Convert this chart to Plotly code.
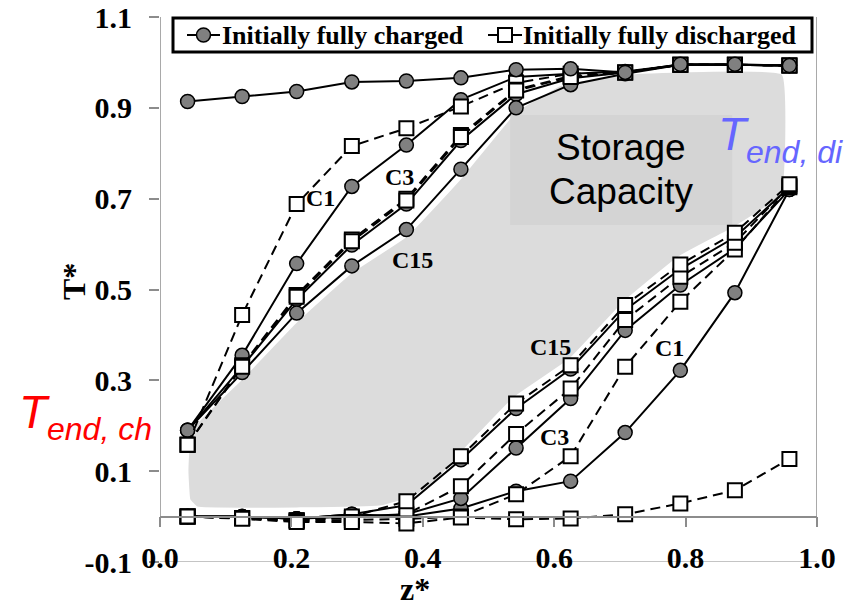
import plotly.graph_objects as go

# ---------------- data ----------------
z = [0.042, 0.125, 0.208, 0.292, 0.375, 0.458, 0.542, 0.625, 0.708, 0.792, 0.875, 0.958]

# Initially fully charged (circle markers, solid lines)
ch_init   = [0.914, 0.925, 0.936, 0.957, 0.959, 0.966, 0.984, 0.986, 0.978, 0.996, 0.996, 0.993]
ch_C1_up  = [0.190, 0.355, 0.557, 0.727, 0.818, 0.918, 0.968, 0.975, 0.980, 0.995, 0.995, 0.993]
ch_C3_up  = [0.190, 0.330, 0.478, 0.598, 0.688, 0.828, 0.930, 0.965, 0.978, 0.995, 0.995, 0.993]
ch_C15_up = [0.190, 0.317, 0.448, 0.552, 0.632, 0.765, 0.900, 0.951, 0.975, 0.995, 0.995, 0.993]
ch_C1_lo  = [0.000, 0.000, -0.005, 0.005, 0.000, 0.018, 0.056, 0.078, 0.185, 0.322, 0.493, 0.720]
ch_C3_lo  = [0.000, 0.000, -0.005, 0.000, 0.005, 0.040, 0.151, 0.260, 0.410, 0.510, 0.590, 0.720]
ch_C15_lo = [0.000, 0.000, -0.005, 0.005, 0.025, 0.125, 0.238, 0.325, 0.455, 0.545, 0.615, 0.725]

# Initially fully discharged (square markers, dashed lines)
dis_init   = [0.000, -0.005, -0.012, -0.012, -0.015, -0.002, -0.006, -0.004, 0.005, 0.029, 0.058, 0.127]
dis_C1_up  = [0.158, 0.444, 0.688, 0.816, 0.855, 0.903, 0.955, 0.975, 0.978, 0.995, 0.995, 0.993]
dis_C3_up  = [0.158, 0.333, 0.488, 0.610, 0.700, 0.840, 0.940, 0.970, 0.978, 0.995, 0.995, 0.993]
dis_C15_up = [0.158, 0.330, 0.484, 0.606, 0.696, 0.836, 0.938, 0.968, 0.978, 0.995, 0.995, 0.993]
dis_C1_lo  = [0.000, -0.003, -0.010, -0.008, -0.005, 0.000, 0.049, 0.133, 0.330, 0.473, 0.588, 0.725]
dis_C3_lo  = [0.000, -0.003, -0.008, -0.003, 0.005, 0.067, 0.182, 0.282, 0.433, 0.528, 0.603, 0.728]
dis_C15_lo = [0.000, -0.003, -0.008, 0.000, 0.034, 0.133, 0.249, 0.333, 0.466, 0.555, 0.625, 0.732]

series_names = ["Initially fully charged", "Initially fully discharged"]

# cycle labels (text, z*, T*)
cycle_labels = [("C1", 0.244, 0.702), ("C3", 0.365, 0.748), ("C15", 0.384, 0.565),
                ("C15", 0.594, 0.374), ("C1", 0.776, 0.372), ("C3", 0.600, 0.176)]

# storage-capacity region outline (z*, T*)
region_x = [0.046, 0.041, 0.044, 0.056, 0.213, 0.335, 0.388, 0.426, 0.457, 0.540, 0.624, 0.708,
            0.790, 0.875, 0.948, 0.948, 0.700, 0.609, 0.540, 0.457, 0.374, 0.291, 0.209, 0.125, 0.046]
region_y = [0.191, 0.103, 0.037, 0.019, 0.017, 0.021, 0.043, 0.085, 0.136, 0.261, 0.345, 0.473,
            0.570, 0.636, 0.709, 0.975, 0.975, 0.951, 0.891, 0.746, 0.618, 0.539, 0.433, 0.306, 0.191]
box_x = [0.533, 0.871, 0.871, 0.533, 0.533]
box_y = [0.642, 0.642, 0.884, 0.884, 0.642]

x_ticks = [0.0, 0.2, 0.4, 0.6, 0.8, 1.0]
y_ticks = [-0.1, 0.1, 0.3, 0.5, 0.7, 0.9, 1.1]

# ---------------- figure ----------------
W, H = 846, 607
ML, MR, MT, MB = 160, 29, 17, 45
PW, PH = W - ML - MR, H - MT - MB

def px_x(px):
    return (px - ML) / PW

def px_y(py):
    return (H - MB - py) / PH

fig = go.Figure()

fig.add_trace(go.Scatter(x=region_x, y=region_y, fill="toself", mode="lines",
                         line=dict(color="white", width=3, shape="spline", smoothing=0.3),
                         fillcolor="#dcdcdc", showlegend=False, hoverinfo="skip"))
fig.add_trace(go.Scatter(x=box_x, y=box_y, fill="toself", mode="lines",
                         line=dict(color="#d4d4d4", width=0),
                         fillcolor="#d4d4d4", showlegend=False, hoverinfo="skip"))

circ = dict(symbol="circle", size=14, color="#808080", line=dict(color="black", width=1.5))
sq = dict(symbol="square", size=14, color="white", line=dict(color="black", width=2))
solid = dict(color="black", width=2)
dashed = dict(color="black", width=2, dash="10px,6px")

charged = [ch_C1_up, ch_C3_up, ch_C15_up, ch_C1_lo, ch_C3_lo, ch_C15_lo]
discharged = [dis_C1_up, dis_C3_up, dis_C15_up, dis_C1_lo, dis_C3_lo, dis_C15_lo, dis_init]

for ys in charged:
    fig.add_trace(go.Scatter(x=z, y=ys, mode="lines+markers", line=solid, marker=circ,
                             name=series_names[0], showlegend=False))
for ys in discharged:
    fig.add_trace(go.Scatter(x=z, y=ys, mode="lines+markers", line=dashed, marker=sq,
                             name=series_names[1], showlegend=False))
fig.add_trace(go.Scatter(x=z, y=ch_init, mode="lines+markers", line=solid, marker=circ,
                         name=series_names[0], showlegend=False))

# dummy trace for label axis
fig.add_trace(go.Scatter(x=[0, 1], y=[None, None], xaxis="x2", yaxis="y",
                         showlegend=False, hoverinfo="skip"))

serif = "Liberation Serif"
sans = "Liberation Sans"

for txt, xx, yy in cycle_labels:
    fig.add_annotation(x=xx, y=yy, text=txt, showarrow=False, xanchor="center", yanchor="middle",
                       font=dict(family=serif, size=24, color="black", weight="bold"))

def paper_text(px, py, text, font, xanchor="center", yanchor="middle", angle=0, pad=1):
    fig.add_annotation(x=px_x(px), y=px_y(py), xref="paper", yref="paper", text=text,
                       showarrow=False, xanchor=xanchor, yanchor=yanchor, textangle=angle,
                       font=font, borderpad=pad, borderwidth=(1 if pad else 0))

paper_text(621, 147, "Storage", dict(family=sans, size=37, color="black"))
paper_text(621, 191, "Capacity", dict(family=sans, size=37, color="black"))

# T_end labels (T, then subscript text)
blue = "#6666ff"
paper_text(718, 134, "<i>T</i>", dict(family=sans, size=46, color=blue), xanchor="left", pad=0)
paper_text(746, 152, "<i>end, di</i>", dict(family=sans, size=32, color=blue), xanchor="left", pad=0)
paper_text(19, 412, "<i>T</i>", dict(family=sans, size=46, color="red"), xanchor="left", pad=0)
paper_text(47, 429, "<i>end, ch</i>", dict(family=sans, size=32, color="red"), xanchor="left", pad=0)

# axis titles
paper_text(74, 282, "T*", dict(family=serif, size=32, color="black", weight="bold"), angle=-90)
paper_text(415, 571, "z*", dict(family=serif, size=32, color="black", weight="bold"),
           yanchor="top", pad=0)

axis_gray = "#8c8c8c"
fig.add_shape(type="line", x0=0, x1=0, y0=0, y1=1.1, xref="x", yref="y",
              line=dict(color=axis_gray, width=1.5))
fig.add_shape(type="line", x0=1, x1=1, y0=0, y1=1.1, xref="x", yref="y",
              line=dict(color=axis_gray, width=1.5))
fig.add_shape(type="line", x0=0, x1=1, y0=-0.1, y1=-0.1, xref="x", yref="y",
              line=dict(color="#b0b0b0", width=1.5), layer="below")

# ---- legend box (drawn in paper space) ----
LG_L, LG_R, LG_T, LG_B = 173, 812, 18, 52
LG_CY = (LG_T + LG_B) / 2
fig.add_shape(type="rect", xref="paper", yref="paper",
              x0=px_x(LG_L), x1=px_x(LG_R), y0=px_y(LG_B), y1=px_y(LG_T),
              line=dict(color="black", width=3), fillcolor="white", layer="above")

def legend_symbol(cx, half, kind):
    fig.add_shape(type="line", xref="paper", yref="paper",
                  x0=px_x(cx - half), x1=px_x(cx + half), y0=px_y(LG_CY), y1=px_y(LG_CY),
                  line=dict(color="black", width=2), layer="above")
    r = 7
    if kind == "circle":
        fig.add_shape(type="circle", xref="paper", yref="paper",
                      x0=px_x(cx - r), x1=px_x(cx + r), y0=px_y(LG_CY + r), y1=px_y(LG_CY - r),
                      line=dict(color="black", width=1.5), fillcolor="#808080", layer="above")
    else:
        fig.add_shape(type="rect", xref="paper", yref="paper",
                      x0=px_x(cx - r), x1=px_x(cx + r), y0=px_y(LG_CY + r), y1=px_y(LG_CY - r),
                      line=dict(color="black", width=2), fillcolor="white", layer="above")

legend_symbol(203.5, 16.5, "circle")
legend_symbol(505, 17, "square")
legend_font = dict(family=serif, size=26, color="black", weight="bold")
paper_text(220, LG_CY + 1, series_names[0], legend_font, xanchor="left")
paper_text(521, LG_CY + 1, series_names[1], legend_font, xanchor="left")

zero_pos = (0 - (-0.1)) / 1.2

fig.update_layout(
    width=W, height=H,
    margin=dict(l=ML, r=MR, t=MT, b=MB, autoexpand=False),
    plot_bgcolor="white", paper_bgcolor="white",
    showlegend=False,
    xaxis=dict(range=[0, 1], anchor="free", position=zero_pos, tickvals=x_ticks,
               showticklabels=False, ticks="outside", ticklen=10, tickwidth=1.5,
               tickcolor=axis_gray, showline=True, linecolor=axis_gray, linewidth=1.5,
               showgrid=False, zeroline=False, automargin=False),
    xaxis2=dict(range=[0, 1], overlaying="x", anchor="free", position=px_y(537),
                tickvals=x_ticks, ticktext=["%.1f" % v for v in x_ticks], ticks="",
                showline=False, showgrid=False, zeroline=False, automargin=False,
                tickfont=dict(family=serif, size=30, color="black", weight="bold")),
    yaxis=dict(range=[-0.1, 1.1], tickvals=y_ticks, ticktext=["%.1f" % v for v in y_ticks],
               ticks="outside", ticklen=10, tickwidth=1.5, tickcolor=axis_gray,
               ticklabelstandoff=11, automargin=False,
               showline=False, showgrid=False, zeroline=False,
               tickfont=dict(family=serif, size=30, color="black", weight="bold")),
)

fig.write_html("out.html")
